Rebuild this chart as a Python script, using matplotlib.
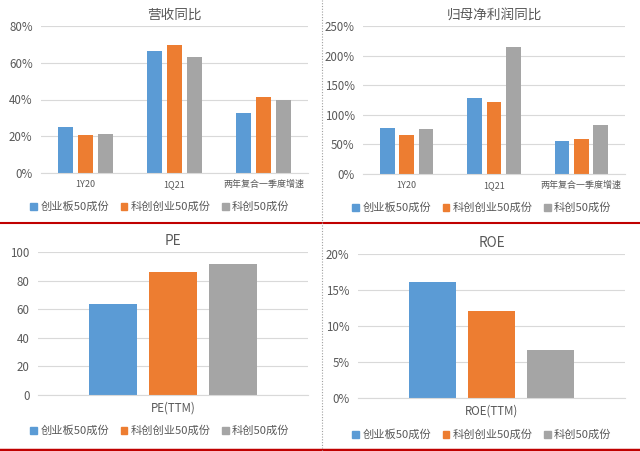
import numpy as np
import matplotlib
matplotlib.use('Agg')
import matplotlib.pyplot as plt
from matplotlib.ticker import FuncFormatter

plt.rcParams['font.family'] = ['Noto Sans CJK SC', 'DejaVu Sans']

# data
series = ['创业板50成份', '科创创业50成份', '科创50成份']
growth_cats = ['1Y20', '1Q21', '两年复合一季度增速']
revenue_yoy = [[25.0, 66.3, 32.9],
               [20.8, 69.5, 41.6],
               [21.3, 63.2, 39.8]]
profit_yoy = [[77.7, 127.8, 56.3],
              [65.3, 122.1, 59.6],
              [75.5, 215.0, 82.8]]
pe_cat = 'PE(TTM)'
pe_vals = [63.8, 86.0, 91.8]
roe_cat = 'ROE(TTM)'
roe_vals = [16.1, 12.1, 6.7]

colors = ['#5B9BD5', '#ED7D31', '#A5A5A5']
txt = '#595959'
grid = '#D9D9D9'

W, H = 640, 451
fig = plt.figure(figsize=(W / 100, H / 100), dpi=100)


def px_axes(x0, y0, x1, y1):
    # pixel box (top-left origin) -> figure axes
    return fig.add_axes([x0 / W, 1 - y1 / H, (x1 - x0) / W, (y1 - y0) / H])


def style(ax, ymax, step, pct, title, xsize=6.5):
    ax.set_ylim(0, ymax)
    ax.set_yticks(np.arange(0, ymax + 0.001, step))
    if pct:
        ax.yaxis.set_major_formatter(FuncFormatter(lambda v, p: '%d%%' % v))
    ax.grid(axis='y', color=grid, linewidth=0.8)
    ax.set_axisbelow(True)
    for s in ['top', 'right', 'left']:
        ax.spines[s].set_visible(False)
    ax.spines['bottom'].set_color(grid)
    ax.tick_params(axis='y', length=0, labelsize=8.3, labelcolor=txt, pad=6)
    ax.tick_params(axis='x', length=0, labelsize=xsize, labelcolor=txt, pad=5)
    ax.set_title(title, fontsize=9.8, color=txt, pad=5)


def legend(x_center, y):
    handles = [plt.Rectangle((0, 0), 1, 1, color=c) for c in colors]
    fig.legend(handles, series, loc='center', bbox_to_anchor=(x_center / W, 1 - y / H),
               ncol=3, frameon=False, fontsize=8.1, labelcolor=txt,
               handlelength=0.6, handleheight=0.6, handletextpad=0.3,
               columnspacing=1.0)


def grouped(ax, data):
    x = np.arange(len(growth_cats))
    for i, vals in enumerate(data):
        ax.bar(x + (i - 1) * 0.223, vals, width=0.168, color=colors[i])
    ax.set_xticks(x)
    ax.set_xticklabels(growth_cats)
    ax.set_xlim(-0.5, 2.5)


def single(ax, vals, cat):
    x = np.arange(len(vals)) - 1
    for i, v in enumerate(vals):
        ax.bar(x[i], v, width=0.79, color=colors[i])
    ax.set_xticks([0])
    ax.set_xticklabels([cat])
    ax.set_xlim(-2.25, 2.25)


ax1 = px_axes(41, 26, 308, 173)
grouped(ax1, revenue_yoy)
style(ax1, 80, 20, True, '营收同比')
legend(160, 207)

ax2 = px_axes(363, 26, 625, 174)
grouped(ax2, profit_yoy)
style(ax2, 250, 50, True, '归母净利润同比')
legend(482, 208)

ax3 = px_axes(38, 252, 308, 395)
single(ax3, pe_vals, pe_cat)
style(ax3, 100, 20, False, 'PE', xsize=8.3)
legend(160, 431)

ax4 = px_axes(358, 254, 625, 398)
single(ax4, roe_vals, roe_cat)
style(ax4, 20, 5, True, 'ROE', xsize=8.3)
legend(482, 435)

# separators
fig.add_artist(plt.Line2D([0, 1], [1 - 223 / H, 1 - 223 / H], color='#C00000', linewidth=1.5))
fig.add_artist(plt.Line2D([0, 1], [1 - 449.5 / H, 1 - 449.5 / H], color='#C00000', linewidth=2.5))
fig.add_artist(plt.Line2D([321.5 / W, 321.5 / W], [0, 1], color='#A0A0A0', linewidth=0.8,
                          linestyle=(0, (1, 1.5))))

fig.savefig('out.png', dpi=100, facecolor='white')
